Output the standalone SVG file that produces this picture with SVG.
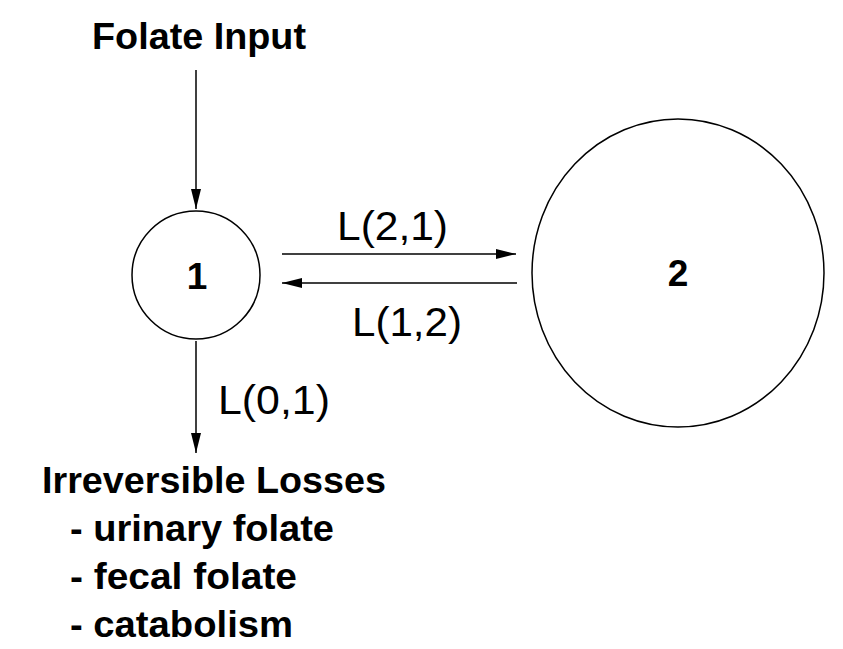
<svg xmlns="http://www.w3.org/2000/svg" width="843" height="649" viewBox="0 0 843 649">
<defs>
<marker id="ah" viewBox="0 0 20 10" refX="20" refY="5" markerWidth="20" markerHeight="10" markerUnits="userSpaceOnUse" orient="auto"><path d="M0,0 L20,5 L0,10 Z" fill="#000"/></marker>
<style>
.b{font-family:"Liberation Sans",Arial,sans-serif;font-weight:bold;font-size:37px;fill:#000}
.n{font-family:"Liberation Sans",Arial,sans-serif;font-size:40px;fill:#000}
.s{fill:#fff;stroke:#000;stroke-width:1.5}
.c{stroke:#000;stroke-width:1.5;fill:none;marker-end:url(#ah)}
</style>
</defs>
<rect width="843" height="649" fill="#fff"/>
<g id="node1"><circle class="s" cx="196" cy="275" r="64"/><text class="b" x="197" y="289" text-anchor="middle">1</text></g>
<g id="node2"><ellipse class="s" cx="678" cy="273" rx="146" ry="154"/><text class="b" x="678" y="286" text-anchor="middle">2</text></g>
<g id="input"><text class="b" x="92" y="49" textLength="214" lengthAdjust="spacingAndGlyphs">Folate Input</text></g>
<g id="losses">
<text class="b" x="42" y="493" textLength="344" lengthAdjust="spacingAndGlyphs">Irreversible Losses</text>
<text class="b" x="70" y="541" textLength="264" lengthAdjust="spacingAndGlyphs">- urinary folate</text>
<text class="b" x="70" y="589" textLength="227" lengthAdjust="spacingAndGlyphs">- fecal folate</text>
<text class="b" x="70" y="637" textLength="223" lengthAdjust="spacingAndGlyphs">- catabolism</text>
</g>
<g id="connectors">
<line class="c" x1="196" y1="70" x2="196" y2="209"/>
<line class="c" x1="196" y1="341" x2="196" y2="453"/>
<line class="c" x1="282" y1="254" x2="516" y2="254"/>
<line class="c" x1="517" y1="283" x2="282" y2="283"/>
<text class="n" x="337" y="240" textLength="111" lengthAdjust="spacingAndGlyphs">L(2,1)</text>
<text class="n" x="352" y="336" textLength="110" lengthAdjust="spacingAndGlyphs">L(1,2)</text>
<text class="n" x="218" y="414" textLength="112" lengthAdjust="spacingAndGlyphs">L(0,1)</text>
</g>
</svg>
